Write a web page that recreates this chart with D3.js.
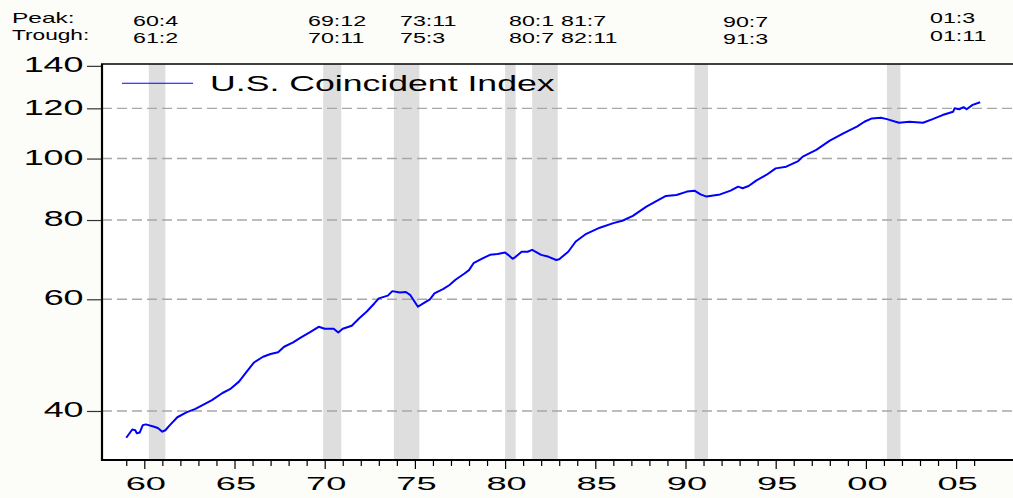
<!DOCTYPE html>
<html><head><meta charset="utf-8">
<script src="https://cdn.jsdelivr.net/npm/d3@7"></script>
<style>
html,body{margin:0;padding:0;background:#fcfcf8;}
svg{display:block;font-family:"Liberation Sans",Arial,Helvetica,sans-serif;}
</style>
</head><body>
<svg id="chart" width="1013" height="498"></svg>
<script>
// ---------- data ----------
const seriesName = "U.S. Coincident Index";
const months = ["1959-01","1959-05","1959-07","1959-08","1959-10","1959-12","1960-02","1960-07","1960-10","1961-01",
"1961-03","1961-06","1961-11","1962-05","1962-11","1963-05","1963-10","1964-05","1964-10","1965-04",
"1965-09","1966-02","1966-08","1967-01","1967-06","1967-10","1968-04","1968-09","1969-03","1969-09",
"1970-01","1970-07","1970-10","1971-01","1971-07","1971-12","1972-05","1972-10","1973-01","1973-07",
"1973-10","1974-03","1974-07","1974-10","1975-03","1975-06","1975-11","1976-02","1976-08","1976-12",
"1977-04","1977-10","1978-01","1978-04","1978-10","1979-03","1979-08","1980-01","1980-03","1980-06",
"1980-08","1980-12","1981-04","1981-07","1982-01","1982-06","1982-11","1983-01","1983-07","1983-12",
"1984-07","1985-04","1986-01","1986-07","1987-02","1987-11","1988-05","1988-12","1989-07","1990-02",
"1990-07","1990-11","1991-03","1991-12","1992-07","1992-12","1993-03","1993-07","1993-12","1994-07",
"1995-01","1995-08","1996-04","1996-07","1997-04","1998-01","1998-10","1999-07","1999-12","2000-05",
"2000-11","2001-03","2001-11","2002-06","2003-03","2003-09","2004-04","2004-11","2004-12","2005-03",
"2005-06","2005-08","2005-12","2006-05"];
const values = [36.3,37.4,37.3,36.9,37.0,38.0,38.1,37.8,37.6,37.1,
37.3,38.0,39.1,39.8,40.3,41.0,41.6,42.7,43.3,44.5,
46.1,47.7,48.7,49.2,49.5,50.5,51.3,52.2,53.2,54.3,
53.9,53.9,53.2,53.9,54.5,56.0,57.4,59.1,60.2,60.8,
61.8,61.5,61.6,60.9,58.4,59.0,60.0,61.3,62.3,63.2,
64.4,65.9,66.7,68.4,69.6,70.5,70.7,71.1,70.5,69.5,
70.0,71.3,71.3,71.8,70.5,70.0,69.2,69.4,71.3,74.0,
76.1,77.8,79.1,79.8,81.2,84.0,85.5,87.3,87.6,88.7,
89.0,87.8,87.1,87.8,89.0,90.3,89.8,90.5,92.3,94.3,
96.5,97.1,99.1,100.7,103.2,106.7,109.6,112.3,114.3,115.7,
116.0,115.4,113.9,114.3,113.9,115.3,117.1,118.5,120.0,119.6,
120.5,119.6,121.5,122.7];

const peaks   = ["1960-04","1969-12","1973-11","1980-01","1981-07","1990-07","2001-03"];
const troughs = ["1961-02","1970-11","1975-03","1980-07","1982-11","1991-03","2001-11"];
const peakLabels   = ["60:4","69:12","73:11","80:1","81:7","90:7","01:3"];
const troughLabels = ["61:2","70:11","75:3","80:7","82:11","91:3","01:11"];

const yTickValues = [40,60,80,100,120,140];
const gridValues  = [40,60,80,100,120];
const xTickYears  = d3.range(1959, 2007);

// ---------- layout ----------
const L = 102, R = 1013, T = 64, B = 460;
const labelCols = [133, 308, 400, 509, 561, 723, 930];   // annotation text columns
const labelDy   = [0, 0, 0, 0, 0, 1, -2.4];

const toDec = s => { const [yy, mm] = s.split("-").map(Number); return yy + (mm - 1) / 12; };
const toDecEnd = s => { const [yy, mm] = s.split("-").map(Number); return yy + mm / 12; };

const data = months.map((m, i) => ({t: toDec(m), v: values[i]}));

const x = d3.scaleLinear().domain([1957.655, 2008.155]).range([L, R]);
const y = d3.scaleLog().domain([33.48, 140.95]).range([B, T]);

const svg = d3.select("#chart");

// plot background
svg.append("rect").attr("x", L).attr("y", T).attr("width", R - L).attr("height", B - T).attr("fill", "#ffffff");

// recession shading
svg.append("g").selectAll("rect").data(peaks).join("rect")
  .attr("x", (p) => x(toDec(p)))
  .attr("width", (p, i) => x(toDecEnd(troughs[i])) - x(toDec(p)))
  .attr("y", T).attr("height", B - T)
  .attr("fill", "#dedede");

// gridlines
svg.append("g").selectAll("line").data(gridValues).join("line")
  .attr("x1", L).attr("x2", R)
  .attr("y1", d => y(d)).attr("y2", d => y(d))
  .attr("stroke", "#a8a8a8").attr("stroke-width", 1.4)
  .attr("stroke-dasharray", "10,5");

// series line
svg.append("path").datum(data)
  .attr("fill", "none").attr("stroke", "#0000ff").attr("stroke-width", 2)
  .attr("stroke-linejoin", "round")
  .attr("d", d3.line().x(d => x(d.t)).y(d => y(d.v)));

// x axis
const xAxis = svg.append("g").attr("transform", `translate(0,${B})`)
  .call(d3.axisBottom(x).tickValues(xTickYears).tickSize(6)
    .tickFormat(d => d % 5 === 0 ? String(d % 100).padStart(2, "0") : ""));
xAxis.select(".domain").remove();
xAxis.selectAll(".tick line").attr("stroke", "#000").attr("stroke-width", 1.2)
  .attr("y2", d => d % 5 === 0 ? 9 : 6);
xAxis.selectAll(".tick text")
  .attr("y", null).attr("dy", null)
  .attr("fill", "#000").attr("font-size", 18.6)
  .attr("font-family", '"Liberation Sans",Arial,sans-serif')
  .attr("text-anchor", "middle")
  .attr("transform", "translate(1,30) scale(1.95,1)");

// y axis
const yAxis = svg.append("g").attr("transform", `translate(${L},0)`)
  .call(d3.axisLeft(y).tickValues(yTickValues).tickSize(15).tickFormat(d3.format("d")));
yAxis.select(".domain").remove();
yAxis.selectAll(".tick line").attr("stroke", "#333").attr("stroke-width", 1.2);
yAxis.selectAll(".tick text")
  .attr("x", null).attr("dy", null).attr("y", null)
  .attr("fill", "#000").attr("font-size", 22)
  .attr("font-family", '"Liberation Sans",Arial,sans-serif')
  .attr("text-anchor", "end")
  .attr("transform", "translate(-18.5,5.7) scale(1.63,1)");

// frame
svg.append("line").attr("x1", L - 1).attr("x2", R).attr("y1", T).attr("y2", T)
  .attr("stroke", "#000").attr("stroke-width", 1.6);
svg.append("line").attr("x1", L - 1).attr("x2", R).attr("y1", B).attr("y2", B)
  .attr("stroke", "#000").attr("stroke-width", 2);
svg.append("line").attr("x1", L).attr("x2", L).attr("y1", T).attr("y2", B + 1)
  .attr("stroke", "#000").attr("stroke-width", 2.2);

// legend
svg.append("line").attr("x1", 122).attr("x2", 193).attr("y1", 83.3).attr("y2", 83.3)
  .attr("stroke", "#0000ff").attr("stroke-width", 1.1);
svg.append("text").text(seriesName)
  .attr("font-size", 22).attr("fill", "#000")
  .attr("transform", "translate(210,90.7) scale(1.62,1)");

// peak / trough annotations
const annot = svg.append("g").attr("font-size", 14).attr("fill", "#000");
annot.append("text").text("Peak:").attr("transform", "translate(12,22.7) scale(1.75,1)");
annot.append("text").text("Trough:").attr("transform", "translate(12,40) scale(1.62,1)");
annot.selectAll("text.pk").data(peakLabels).join("text").attr("class", "pk")
  .text(d => d)
  .attr("transform", (d, i) => `translate(${labelCols[i]},${25.7 + labelDy[i]}) scale(1.66,1)`);
annot.selectAll("text.tr").data(troughLabels).join("text").attr("class", "tr")
  .text(d => d)
  .attr("transform", (d, i) => `translate(${labelCols[i]},${43.3 + labelDy[i]}) scale(1.66,1)`);
</script>
</body></html>
